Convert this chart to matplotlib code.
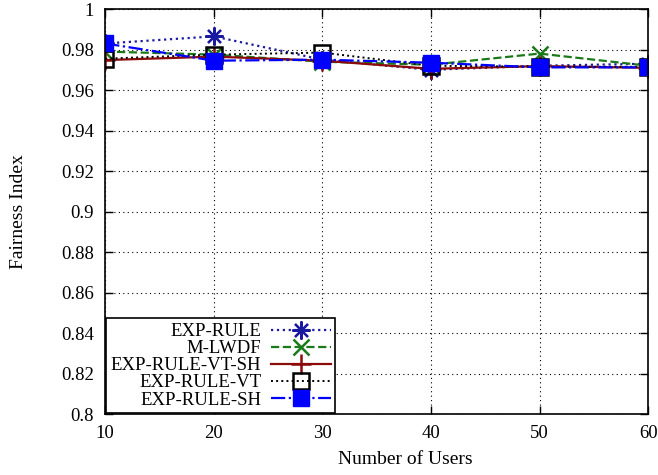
import matplotlib
matplotlib.use('Agg')
import matplotlib.pyplot as plt
from matplotlib.ticker import FormatStrFormatter

plt.rcParams['font.family'] = ['Liberation Serif', 'DejaVu Serif']
plt.rcParams['font.size'] = 13.5

users = [10, 20, 30, 40, 50, 60]
exp_rule = [0.983, 0.9865, 0.975, 0.970, 0.972, 0.973]
m_lwdf = [0.979, 0.9775, 0.974, 0.9725, 0.978, 0.972]
exp_rule_vt_sh = [0.9748, 0.9765, 0.9745, 0.9705, 0.9718, 0.971]
exp_rule_vt = [0.9755, 0.9775, 0.9785, 0.972, 0.9715, 0.9715]
exp_rule_sh = [0.983, 0.9745, 0.975, 0.9735, 0.9712, 0.9712]

fig = plt.figure(figsize=(6.58, 4.75), dpi=100)
ax = fig.add_axes([0.16, 0.128, 0.825, 0.853])

ax.plot(users, exp_rule, color='#1a1aa0', linestyle=':', lw=1.6,
        marker=(8, 2, 0), markersize=13, markeredgewidth=1.6, label='EXP-RULE')
ax.plot(users, m_lwdf, color='#1a7a1a', linestyle='--', lw=1.6,
        marker='x', markersize=12, markeredgewidth=1.8, label='M-LWDF')
ax.plot(users, exp_rule_vt_sh, color='#8b0a0a', linestyle='-', lw=1.6,
        marker='+', markersize=14, markeredgewidth=1.8, label='EXP-RULE-VT-SH')
ax.plot(users, exp_rule_vt, color='black', linestyle=':', lw=1.4,
        marker='s', markersize=12, markerfacecolor='none', markeredgewidth=1.8,
        label='EXP-RULE-VT')
ax.plot(users, exp_rule_sh, color='#0000ff', linestyle='-.', lw=1.6,
        marker='s', markersize=12, markerfacecolor='#0000ff', markeredgecolor='#0000ff',
        label='EXP-RULE-SH')

ax.set_xlim(10, 60)
ax.set_ylim(0.8, 1.0)
ax.set_xticks(users)
ax.set_yticks([0.8 + 0.02 * i for i in range(11)])
ax.yaxis.set_major_formatter(FormatStrFormatter('%g'))
ax.tick_params(direction='in', top=True, right=True, length=6, width=1, pad=8)
ax.grid(True, color='black', linestyle=(0, (1, 3)), lw=0.8)
for s in ax.spines.values():
    s.set_linewidth(1.2)

ax.set_xlabel('Number of Users', fontsize=14)
ax.set_ylabel('Fairness Index', fontsize=14)
ax.xaxis.set_label_coords(0.552, -0.092)
ax.yaxis.set_label_coords(-0.145, 0.5)

# markerfirst=False right-aligns the labels, as gnuplot does
leg = ax.legend(loc='lower left', markerfirst=False, handlelength=3.2,
                fancybox=False, framealpha=1, edgecolor='black',
                borderaxespad=0.05, labelspacing=0.0, borderpad=0.25,
                handletextpad=0.5)
leg.get_frame().set_linewidth(1.2)

fig.savefig('out.png', dpi=100)
